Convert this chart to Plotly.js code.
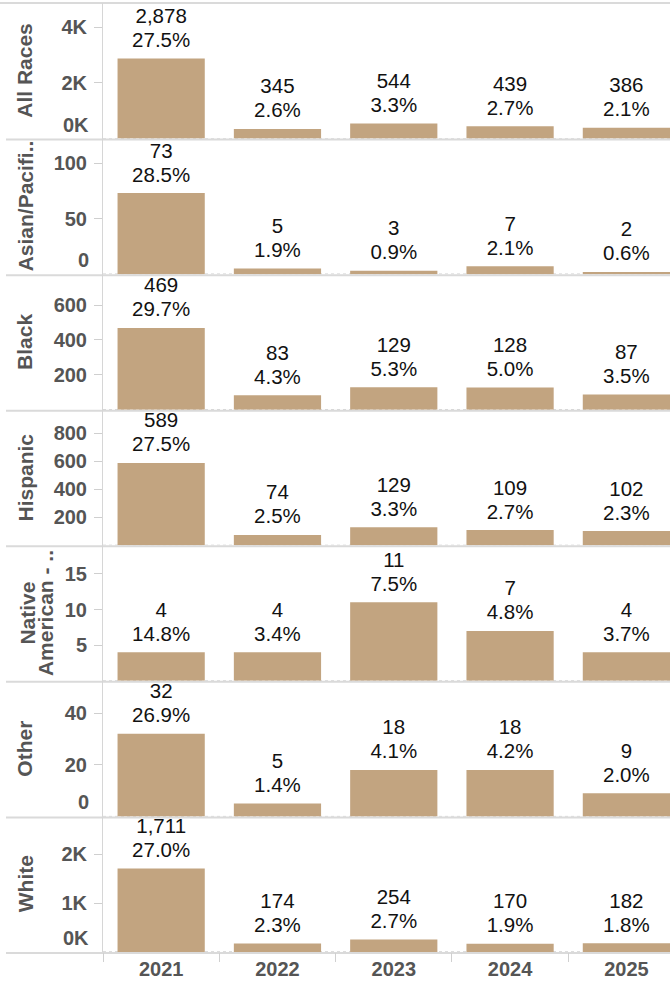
<!DOCTYPE html>
<html>
<head>
<meta charset="utf-8">
<script src="https://cdn.plot.ly/plotly-3.0.1.min.js"></script>
<style>
  html, body { margin: 0; padding: 0; background: #fff; overflow: hidden; }
  #chart { width: 670px; height: 988px; }
</style>
</head>
<body>
<div id="chart"></div>
<script>
// ---- Data ----
const years = ['2021', '2022', '2023', '2024', '2025'];
const groupLabels = ['All Races', 'Asian/Pacifi..', 'Black', 'Hispanic', ['Native', 'American - ..'], 'Other', 'White'];

const allRaces = [2878, 345, 544, 439, 386];
const allRacesPct = [27.5, 2.6, 3.3, 2.7, 2.1];
const asianPacific = [73, 5, 3, 7, 2];
const asianPacificPct = [28.5, 1.9, 0.9, 2.1, 0.6];
const black = [469, 83, 129, 128, 87];
const blackPct = [29.7, 4.3, 5.3, 5.0, 3.5];
const hispanic = [589, 74, 129, 109, 102];
const hispanicPct = [27.5, 2.5, 3.3, 2.7, 2.3];
const nativeAmerican = [4, 4, 11, 7, 4];
const nativeAmericanPct = [14.8, 3.4, 7.5, 4.8, 3.7];
const other = [32, 5, 18, 18, 9];
const otherPct = [26.9, 1.4, 4.1, 4.2, 2.0];
const white = [1711, 174, 254, 170, 182];
const whitePct = [27.0, 2.3, 2.7, 1.9, 1.8];

// y tick values / labels per panel
const tickValsAll = [2000, 4000];      const tickTextAll = ['2K', '4K'];
const tickValsAsian = [50, 100];       const tickTextAsian = ['50', '100'];
const tickValsBlack = [200, 400, 600]; const tickTextBlack = ['200', '400', '600'];
const tickValsHisp = [200, 400, 600, 800]; const tickTextHisp = ['200', '400', '600', '800'];
const tickValsNative = [5, 10, 15];    const tickTextNative = ['5', '10', '15'];
const tickValsOther = [20, 40];        const tickTextOther = ['20', '40'];
const tickValsWhite = [1000, 2000];    const tickTextWhite = ['1K', '2K'];
// zero-label shown inside pane (null = none)
const zeroLabels = ['0K', '0', null, null, null, '0', '0K'];

// ---- Build ----
const series = [allRaces, asianPacific, black, hispanic, nativeAmerican, other, white];
const pcts = [allRacesPct, asianPacificPct, blackPct, hispanicPct, nativeAmericanPct, otherPct, whitePct];
const tickVals = [tickValsAll, tickValsAsian, tickValsBlack, tickValsHisp, tickValsNative, tickValsOther, tickValsWhite];
const tickTexts = [tickTextAll, tickTextAsian, tickTextBlack, tickTextHisp, tickTextNative, tickTextOther, tickTextWhite];
const ranges = [[0, 4870], [0, 122], [0, 777], [0, 970], [0, 19], [0, 52.5], [0, 2780]];

const FONT = 'Arial, "Liberation Sans", sans-serif';
const BAR = '#C2A480';
const GREY = '#555555';
const N = series.length;
const W = 670, H = 988;
const M = {l: 103, r: 0, t: 3, b: 36};
const plotW = W - M.l - M.r, plotH = H - M.t - M.b;
const big = s => '<span style="font-size:20.5px">' + s + '</span>';
const hdr = s => '<span style="font-size:21px">' + s + '</span>';

const traces = [];
const layout = {
  width: W, height: H,
  margin: M,
  paper_bgcolor: '#fff', plot_bgcolor: '#fff',
  showlegend: false,
  bargap: 0.25,
  font: {family: FONT, color: GREY},
  xaxis: {
    type: 'category', anchor: 'y' + N, domain: [0, 1],
    range: [-0.5, 4.375],
    tickson: 'boundaries', ticks: 'outside', ticklen: 9, tickwidth: 1, tickcolor: '#d0d0d0',
    ticklabelstandoff: 3,
    showline: false, showgrid: false, zeroline: false,
    tickfont: {family: FONT, size: 20, weight: 'bold', color: GREY},
    fixedrange: true
  },
  shapes: [],
  annotations: []
};

for (let i = 0; i < N; i++) {
  const yName = i === 0 ? 'y' : 'y' + (i + 1);
  const axKey = i === 0 ? 'yaxis' : 'yaxis' + (i + 1);
  const vals = series[i], pc = pcts[i];
  traces.push({
    type: 'bar', x: years, y: vals, xaxis: 'x', yaxis: yName,
    marker: {color: BAR, line: {width: 0}},
    hoverinfo: 'none'
  });
  // value labels above the bars
  traces.push({
    type: 'scatter', mode: 'markers+text', x: years, y: vals, xaxis: 'x', yaxis: yName,
    marker: {size: 9.4, opacity: 0, color: BAR},
    text: vals.map((v, j) => big(v.toLocaleString('en-US')) + '<br>' + big(pc[j].toFixed(1) + '%')),
    textposition: 'top center', cliponaxis: false,
    textfont: {family: FONT, size: 18.46, color: '#111'},
    hoverinfo: 'none'
  });
  layout[axKey] = {
    domain: [1 - (i + 1) / N, 1 - i / N], anchor: 'x',
    range: ranges[i],
    tickvals: tickVals[i], ticktext: tickTexts[i],
    ticks: 'outside', ticklen: 8, tickwidth: 1, tickcolor: '#cfcfcf',
    ticklabelstandoff: 3,
    showline: true, linecolor: '#d6d6d6', linewidth: 1,
    showgrid: false, zeroline: false, fixedrange: true,
    tickfont: {family: FONT, size: 20, weight: 'bold', color: GREY}
  };
  // row header
  const lbl = groupLabels[i];
  const multi = Array.isArray(lbl);
  layout.annotations.push({
    xref: 'paper', yref: yName + ' domain',
    x: ((multi ? 36 : 25) - M.l) / plotW, y: 0.5,
    xanchor: 'center', yanchor: 'middle',
    text: multi ? lbl.map(hdr).join('<br>') : lbl, textangle: -90, showarrow: false,
    font: {family: FONT, size: multi ? 13.8 : 21, weight: 'bold', color: GREY}
  });
  if (zeroLabels[i]) {
    layout.annotations.push({
      xref: 'paper', yref: yName, x: 0, y: 0,
      xanchor: 'right', yanchor: 'middle', xshift: -12, yshift: 14,
      text: zeroLabels[i], showarrow: false,
      font: {family: FONT, size: 20, weight: 'bold', color: GREY}
    });
  }
  // dotted baseline
  layout.shapes.push({
    type: 'line', layer: 'below', xref: 'paper', yref: yName,
    x0: 0, x1: 1, y0: 0, y1: 0,
    line: {color: '#bdbdbd', width: 1, dash: 'dot'}
  });
}

// panel separators
for (let k = 0; k <= N; k++) {
  const yp = k / N - 1 / plotH;
  layout.shapes.push({
    type: 'line', layer: 'below', xref: 'paper', yref: 'paper',
    x0: (k === N ? -M.l : 6 - M.l) / plotW, x1: 1.02,
    y0: k === N ? 1 : yp, y1: k === N ? 1 : yp,
    line: {color: '#dadada', width: 2}
  });
}

Plotly.newPlot('chart', traces, layout, {displayModeBar: false, staticPlot: true});
</script>
</body>
</html>
